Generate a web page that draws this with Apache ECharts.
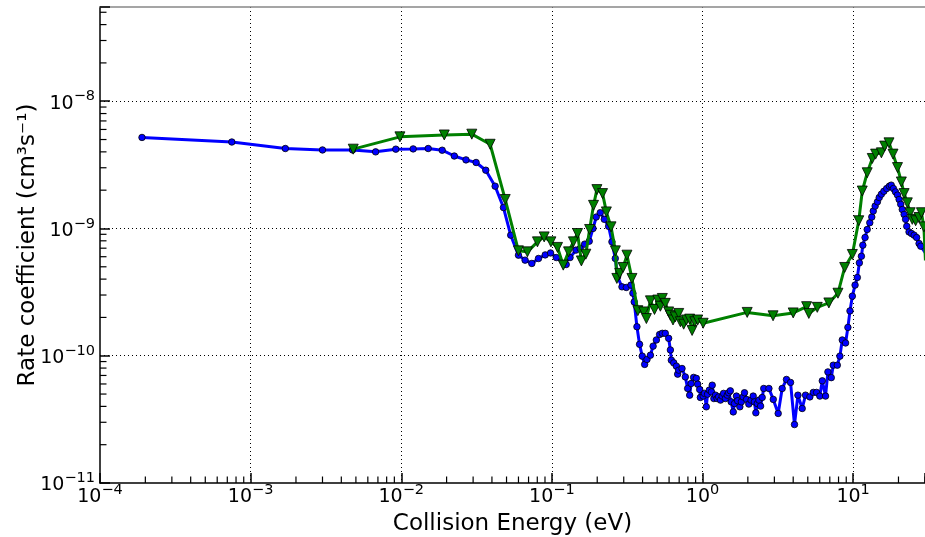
<!DOCTYPE html>
<html>
<head>
<meta charset="utf-8">
<script src="https://cdn.jsdelivr.net/npm/echarts@6/dist/echarts.min.js"></script>
<style>
  html, body { margin: 0; padding: 0; background: #fff; }
  #chart { width: 925px; height: 537px; }
</style>
</head>
<body>
<div id="chart"></div>
<script>
// Collision energies (eV) and rate coefficients (cm^3 s^-1)
const blueEnergy = [
  1.9e-4, 7.5e-4, 1.7e-3, 3.0e-3, 4.75e-3, 6.76e-3, 9.2e-3, 1.2e-2, 1.51e-2, 1.87e-2,
  2.25e-2, 2.69e-2, 3.14e-2, 3.64e-2, 4.2e-2, 4.77e-2, 5.33e-2, 6.0e-2, 6.64e-2, 7.36e-2,
  8.15e-2, 9.03e-2, 9.8e-2, 0.107, 0.121, 0.1245, 0.132, 0.1445, 0.154, 0.165,
  0.177, 0.1875, 0.197, 0.2095, 0.2228, 0.238, 0.2505, 0.2636, 0.273, 0.292,
  0.312, 0.335, 0.345, 0.352, 0.367, 0.382, 0.398, 0.413, 0.428, 0.451,
  0.47, 0.494, 0.519, 0.541, 0.566, 0.596, 0.612, 0.621, 0.644, 0.671,
  0.684, 0.695, 0.731, 0.769, 0.797, 0.822, 0.84, 0.873, 0.91, 0.929,
  0.958, 0.968, 1.01, 1.03, 1.06, 1.08, 1.11, 1.146, 1.16, 1.19,
  1.22, 1.25, 1.28, 1.316, 1.35, 1.38, 1.42, 1.46, 1.49, 1.53,
  1.55, 1.6, 1.63, 1.68, 1.71, 1.77, 1.81, 1.86, 1.9, 1.96,
  2.03, 2.1, 2.17, 2.21, 2.26, 2.31, 2.37, 2.43, 2.49, 2.55,
  2.76, 2.95, 3.18, 3.38, 3.61, 3.84, 4.08, 4.3, 4.59, 4.83,
  5.16, 5.44, 5.72, 6.01, 6.24, 6.56, 6.8, 7.16, 7.38, 7.85,
  8.17, 8.47, 8.91, 9.23, 9.53, 9.88, 10.3, 10.66, 11.0, 11.35,
  11.6, 12.0, 12.4, 12.9, 13.3, 13.6, 14.0, 14.5, 14.9, 15.4,
  16.0, 16.7, 17.4, 17.9, 18.5, 19.1, 19.7, 20.2, 20.7, 21.2,
  21.8, 22.3, 22.7, 23.5, 24.4, 25.4, 26.4, 27.4, 28.1, 30.5
];
const blueRate = [
  5.19e-9, 4.78e-9, 4.25e-9, 4.14e-9, 4.14e-9, 4.0e-9, 4.2e-9, 4.22e-9, 4.25e-9, 4.12e-9,
  3.71e-9, 3.46e-9, 3.30e-9, 2.87e-9, 2.15e-9, 1.46e-9, 8.86e-10, 6.17e-10, 5.64e-10, 5.31e-10,
  5.81e-10, 6.2e-10, 6.42e-10, 5.91e-10, 5.31e-10, 5.21e-10, 5.91e-10, 6.76e-10, 6.97e-10, 7.53e-10,
  7.94e-10, 1.0e-9, 1.23e-9, 1.33e-9, 1.18e-9, 1.04e-9, 7.85e-10, 5.81e-10, 4.17e-10, 3.48e-10,
  3.44e-10, 3.59e-10, 3.1e-10, 2.65e-10, 1.69e-10, 1.23e-10, 9.93e-11, 8.55e-11, 9.35e-11, 1.01e-10,
  1.19e-10, 1.33e-10, 1.47e-10, 1.50e-10, 1.50e-10, 1.37e-10, 1.11e-10, 9.23e-11, 8.79e-11, 8.28e-11,
  7.17e-11, 7.7e-11, 7.94e-11, 6.82e-11, 5.53e-11, 4.9e-11, 6.05e-11, 6.76e-11, 6.64e-11, 5.98e-11,
  5.43e-11, 4.7e-11, 4.82e-11, 5.06e-11, 3.97e-11, 4.99e-11, 5.37e-11, 5.2e-11, 5.87e-11, 4.61e-11,
  4.9e-11, 4.61e-11, 4.75e-11, 4.48e-11, 4.82e-11, 5.06e-11, 4.61e-11, 4.9e-11, 5.12e-11, 5.3e-11,
  4.34e-11, 3.62e-11, 4.21e-11, 4.82e-11, 4.43e-11, 3.97e-11, 4.34e-11, 4.75e-11, 5.12e-11, 4.54e-11,
  4.17e-11, 4.48e-11, 4.82e-11, 4.34e-11, 3.56e-11, 4.21e-11, 4.48e-11, 4.02e-11, 4.7e-11, 5.53e-11,
  5.53e-11, 4.54e-11, 3.52e-11, 5.53e-11, 6.51e-11, 6.17e-11, 2.88e-11, 4.9e-11, 3.85e-11, 4.9e-11,
  4.75e-11, 5.15e-11, 5.15e-11, 4.82e-11, 6.35e-11, 4.82e-11, 7.46e-11, 6.73e-11, 8.43e-11, 8.43e-11,
  9.93e-11, 1.33e-10, 1.26e-10, 1.67e-10, 2.25e-10, 2.94e-10, 3.59e-10, 4.12e-10, 5.37e-10, 6.05e-10,
  7.39e-10, 8.49e-10, 9.82e-10, 1.11e-9, 1.23e-9, 1.37e-9, 1.5e-9, 1.62e-9, 1.75e-9, 1.86e-9,
  1.96e-9, 2.06e-9, 2.15e-9, 2.19e-9, 2.06e-9, 1.94e-9, 1.83e-9, 1.69e-9, 1.55e-9, 1.41e-9,
  1.29e-9, 1.18e-9, 1.04e-9, 9.4e-10, 9.13e-10, 8.86e-10, 8.49e-10, 7.62e-10, 7.26e-10, 6.3e-10
];

const greenEnergy = [
  4.8e-3, 9.8e-3, 1.93e-2, 2.94e-2, 3.89e-2, 4.9e-2, 6.0e-2, 6.88e-2, 8.02e-2, 8.89e-2,
  9.85e-2, 0.109, 0.119, 0.129, 0.139, 0.148, 0.157, 0.168, 0.178, 0.189,
  0.199, 0.217, 0.23, 0.247, 0.264, 0.27, 0.282, 0.297, 0.315, 0.34,
  0.372, 0.407, 0.424, 0.451, 0.48, 0.505, 0.525, 0.541, 0.566, 0.596,
  0.612, 0.637, 0.659, 0.695, 0.713, 0.75, 0.782, 0.822, 0.853, 0.888,
  0.929, 1.01, 1.98, 2.94, 4.0, 4.91, 5.08, 5.78, 6.9, 7.93,
  8.79, 9.88, 10.9, 11.5, 12.4, 13.4, 14.1, 15.4, 16.2, 17.3,
  18.4, 19.7, 20.9, 21.8, 22.9, 23.9, 24.7, 26.0, 27.4, 28.4,
  29.5, 30.2
];
const greenRate = [
  4.2e-9, 5.25e-9, 5.43e-9, 5.51e-9, 4.59e-9, 1.69e-9, 6.67e-10, 6.55e-10, 7.85e-10, 8.59e-10,
  7.85e-10, 7.1e-10, 5.15e-10, 6.55e-10, 7.85e-10, 9.13e-10, 5.56e-10, 6.28e-10, 9.82e-10, 1.52e-9,
  2.02e-9, 1.88e-9, 1.35e-9, 1.03e-9, 6.67e-10, 4.05e-10, 4.44e-10, 4.94e-10, 6.17e-10, 4.05e-10,
  2.26e-10, 2.21e-10, 1.96e-10, 2.7e-10, 2.31e-10, 2.74e-10, 2.45e-10, 2.82e-10, 2.58e-10, 2.21e-10,
  2.08e-10, 1.91e-10, 2.02e-10, 2.15e-10, 1.85e-10, 1.77e-10, 1.91e-10, 1.94e-10, 1.58e-10, 1.85e-10,
  1.91e-10, 1.8e-10, 2.19e-10, 2.06e-10, 2.17e-10, 2.43e-10, 2.15e-10, 2.4e-10, 2.6e-10, 3.1e-10,
  4.94e-10, 6.25e-10, 1.15e-9, 1.97e-9, 2.74e-9, 3.55e-9, 3.84e-9, 3.93e-9, 4.44e-9, 4.71e-9,
  3.84e-9, 3.01e-9, 2.32e-9, 1.88e-9, 1.59e-9, 1.33e-9, 1.18e-9, 1.15e-9, 1.22e-9, 1.33e-9,
  1.03e-9, 5.6e-10
];

// Axis ranges
const xRange = [1e-4, 30];
const yRange = [1e-11, 5.5e-8];

// Minor (2..9) log tick positions inside each range
function minorTicks(lo, hi) {
  const out = [];
  for (let e = Math.floor(Math.log10(lo)); e <= Math.ceil(Math.log10(hi)); e++) {
    for (let m = 2; m <= 9; m++) {
      const v = m * Math.pow(10, e);
      if (v > lo && v <= hi * 1.0001) out.push(v);
    }
  }
  return out;
}
const xMinor = minorTicks(xRange[0], xRange[1]);
const yMinor = minorTicks(yRange[0], yRange[1]);

const FONT = 'DejaVu Sans';

// Power-of-ten labels with a raised exponent
function powLabel(v) {
  const e = Math.log10(v);
  const r = Math.round(e);
  if (Math.abs(e - r) > 1e-6) return '';
  return '{b|10}{s|' + String(r).replace('-', '\u2212') + '}';
}
const labelRich = {
  b: { fontSize: 19, lineHeight: 24, fontFamily: FONT, color: '#000', verticalAlign: 'bottom' },
  s: { fontSize: 14.5, lineHeight: 15, fontFamily: FONT, color: '#000', verticalAlign: 'top' }
};

const zip = (xs, ys) => xs.map((x, i) => [x, ys[i]]);

const chart = echarts.init(document.getElementById('chart'), null, { renderer: 'canvas' });

chart.setOption({
  backgroundColor: '#fff',
  animation: false,
  grid: { left: 100, right: 0, top: 7, bottom: 54, containLabel: false, outerBoundsMode: 'none' },
  xAxis: [{
    type: 'log', logBase: 10, min: xRange[0], max: xRange[1],
    name: 'Collision Energy (eV)', nameLocation: 'middle', nameGap: 30, nameMoveOverlap: false,
    nameTextStyle: { fontSize: 23, fontFamily: FONT, color: '#000' },
    axisLine: { lineStyle: { color: '#000', width: 1.5 } },
    axisTick: { inside: true, length: 10, lineStyle: { color: '#000', width: 1.5 } },
    axisLabel: { margin: 0, formatter: powLabel, rich: labelRich },
    splitLine: { show: true, showMinLine: false, showMaxLine: false,
      lineStyle: { color: '#000', type: [1, 3], width: 1 } }
  }, {
    type: 'log', logBase: 10, min: xRange[0], max: xRange[1], position: 'top',
    axisLine: { lineStyle: { color: '#888', width: 1.5 } },
    axisTick: { show: false }, axisLabel: { show: false }, splitLine: { show: false }
  }],
  yAxis: {
    type: 'log', logBase: 10, min: yRange[0], max: yRange[1],
    name: 'Rate coefficient (cm³s⁻¹)', nameLocation: 'middle', nameGap: 60, nameMoveOverlap: false,
    nameTextStyle: { fontSize: 23, fontFamily: FONT, color: '#000' },
    axisLine: { lineStyle: { color: '#000', width: 1.5 } },
    axisTick: { inside: true, length: 10, lineStyle: { color: '#000', width: 1.5 } },
    axisLabel: { margin: 5, formatter: powLabel, rich: labelRich },
    splitLine: { show: true, showMinLine: false, showMaxLine: false,
      lineStyle: { color: '#000', type: [1, 3], width: 1 } }
  },
  series: [
    {
      type: 'line', name: 'blue', data: zip(blueEnergy, blueRate),
      lineStyle: { color: '#0000ff', width: 3 },
      symbol: 'circle', symbolSize: 6.5,
      itemStyle: { color: '#0000ff', borderColor: '#000', borderWidth: 0.8 },
      z: 3
    },
    {
      type: 'line', name: 'green', data: zip(greenEnergy, greenRate),
      lineStyle: { color: '#008000', width: 3 },
      symbol: 'triangle', symbolRotate: 180, symbolSize: 10,
      itemStyle: { color: '#008000', borderColor: '#000', borderWidth: 0.8 },
      z: 4
    },
    {
      // minor ticks along the bottom axis
      type: 'custom', silent: true, z: 10, clip: false,
      data: xMinor.map(v => [v, yRange[0]]),
      renderItem: (params, api) => {
        const p = api.coord([api.value(0), api.value(1)]);
        return { type: 'line', shape: { x1: p[0], y1: p[1], x2: p[0], y2: p[1] - 6.5 },
          style: { stroke: '#000', lineWidth: 1.2 } };
      }
    },
    {
      // minor ticks along the left axis
      type: 'custom', silent: true, z: 10, clip: false,
      data: yMinor.map(v => [xRange[0], v]),
      renderItem: (params, api) => {
        const p = api.coord([api.value(0), api.value(1)]);
        return { type: 'line', shape: { x1: p[0], y1: p[1], x2: p[0] + 6.5, y2: p[1] },
          style: { stroke: '#000', lineWidth: 1.2 } };
      }
    }
  ]
});
</script>
</body>
</html>
